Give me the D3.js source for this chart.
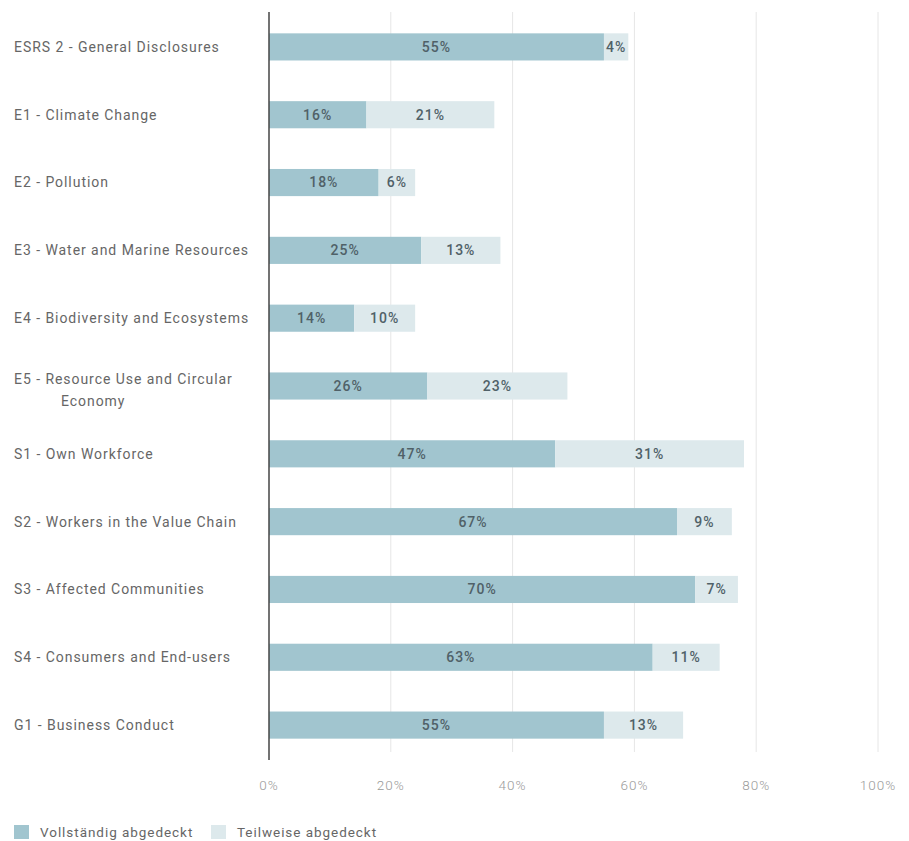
<!DOCTYPE html>
<html lang="de">
<head>
    <meta charset="UTF-8">
    <title>ESRS Abdeckung</title>
    <script src="https://d3js.org/d3.v7.min.js"></script>
    <style>
        html, body {
            margin: 0;
            background: #fff;
        }
        #chart {
            width: 909px;
            height: 841px;
        }
        text {
            font-family: "Roboto", "Noto Sans", sans-serif;
        }
        .cat {
            fill: #666;
            font-size: 14px;
            letter-spacing: 0.95px;
        }
        .val {
            fill: #506168;
            font-size: 14px;
            font-weight: 500;
            letter-spacing: 1px;
        }
        .tick-label {
            fill: #9a9a9a;
            font-size: 13.5px;
            font-weight: 300;
            letter-spacing: 1px;
        }
    </style>
</head>
<body>
<div id="chart"></div>
<script>
    // data
    var categories = [
        "ESRS 2 - General Disclosures",
        "E1 - Climate Change",
        "E2 - Pollution",
        "E3 - Water and Marine Resources",
        "E4 - Biodiversity and Ecosystems",
        "E5 - Resource Use and Circular|Economy",
        "S1 - Own Workforce",
        "S2 - Workers in the Value Chain",
        "S3 - Affected Communities",
        "S4 - Consumers and End-users",
        "G1 - Business Conduct"
    ];
    var full = [55, 16, 18, 25, 14, 26, 47, 67, 70, 63, 55];
    var partial = [4, 21, 6, 13, 10, 23, 31, 9, 7, 11, 13];
    var ticks = [0, 20, 40, 60, 80, 100];
    var legendLabels = ["Vollständig abgedeckt", "Teilweise abgedeckt"];
    var colors = ["#a1c5cf", "#dde9ec"];

    var svg = d3.select("#chart").append("svg")
        .attr("width", 909)
        .attr("height", 841);

    var x = d3.scaleLinear().domain([0, 100]).range([269, 878]);
    var y = d3.scaleBand().domain(categories).range([13, 759])
        .paddingInner(0.6).paddingOuter(0.3);

    // grid lines
    svg.append("g").selectAll("line")
        .data(ticks.slice(1))
        .join("line")
        .attr("x1", d => x(d)).attr("x2", d => x(d))
        .attr("y1", 12).attr("y2", 752)
        .attr("stroke", "#e6e6e6")
        .attr("stroke-width", 1);

    // tick labels
    svg.append("g").selectAll("text")
        .data(ticks)
        .join("text")
        .attr("class", "tick-label")
        .attr("x", d => x(d))
        .attr("y", 790)
        .attr("text-anchor", "middle")
        .text(d => d + "%");

    var rows = svg.append("g").selectAll("g")
        .data(categories)
        .join("g");

    // fully covered
    rows.append("rect")
        .attr("x", x(0))
        .attr("y", d => y(d))
        .attr("width", (d, i) => x(full[i]) - x(0))
        .attr("height", y.bandwidth())
        .attr("fill", colors[0]);

    // partially covered
    rows.append("rect")
        .attr("x", (d, i) => x(full[i]))
        .attr("y", d => y(d))
        .attr("width", (d, i) => x(full[i] + partial[i]) - x(full[i]))
        .attr("height", y.bandwidth())
        .attr("fill", colors[1]);

    rows.append("text")
        .attr("class", "val")
        .attr("x", (d, i) => x(full[i] / 2))
        .attr("y", d => y(d) + y.bandwidth() / 2)
        .attr("dy", "0.35em")
        .attr("text-anchor", "middle")
        .text((d, i) => full[i] + "%");

    rows.append("text")
        .attr("class", "val")
        .attr("x", (d, i) => x(full[i] + partial[i] / 2))
        .attr("y", d => y(d) + y.bandwidth() / 2)
        .attr("dy", "0.35em")
        .attr("text-anchor", "middle")
        .text((d, i) => partial[i] + "%");

    // category labels, "|" marks a line break
    rows.append("text")
        .attr("class", "cat")
        .attr("y", d => y(d) + y.bandwidth() / 2)
        .each(function(d) {
            var parts = d.split("|");
            var t = d3.select(this);
            if (parts.length === 1) {
                t.append("tspan").attr("x", 14).attr("dy", "0.35em").text(parts[0]);
            } else {
                t.append("tspan").attr("x", 14).attr("dy", "-0.15em").text(parts[0]);
                t.append("tspan").attr("x", 61).attr("dy", "1.55em").text(parts[1]);
            }
        });

    // axis line
    svg.append("line")
        .attr("x1", x(0)).attr("x2", x(0))
        .attr("y1", 12).attr("y2", 760)
        .attr("stroke", "#444")
        .attr("stroke-width", 1.5);

    // legend
    var legend = svg.append("g").selectAll("g")
        .data(legendLabels)
        .join("g")
        .attr("transform", (d, i) => "translate(" + [14, 211][i] + ",825)");

    legend.append("rect")
        .attr("width", 15).attr("height", 14)
        .attr("fill", (d, i) => colors[i]);

    legend.append("text")
        .attr("class", "cat")
        .attr("x", 26)
        .attr("y", 7)
        .attr("dy", "0.35em")
        .style("font-size", "13.5px")
        .text(d => d);
</script>
</body>
</html>
